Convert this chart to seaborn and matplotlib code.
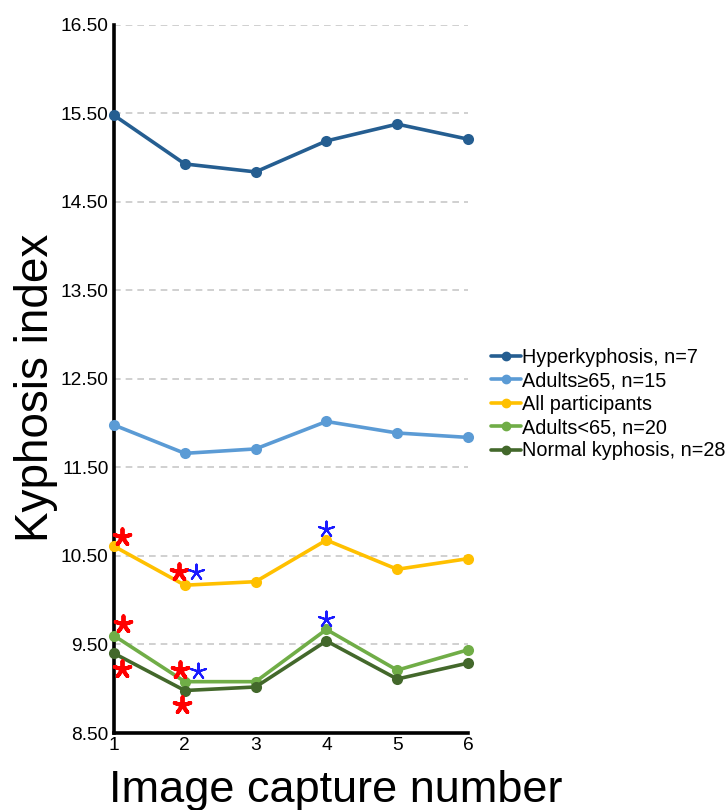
import matplotlib
matplotlib.use("Agg")
import matplotlib.pyplot as plt
import seaborn as sns
import pandas as pd
import numpy as np

captures = [1, 2, 3, 4, 5, 6]
series_names = ["Hyperkyphosis, n=7", "Adults\u226565, n=15", "All participants",
                "Adults<65, n=20", "Normal kyphosis, n=28"]
hyperkyphosis = [15.48, 14.93, 14.84, 15.19, 15.38, 15.21]
adults_65_plus = [11.98, 11.66, 11.71, 12.02, 11.89, 11.84]
all_participants = [10.61, 10.17, 10.21, 10.68, 10.35, 10.47]
adults_under_65 = [9.60, 9.08, 9.08, 9.67, 9.21, 9.44]
normal_kyphosis = [9.40, 8.98, 9.02, 9.54, 9.11, 9.29]
colors = ["#255E91", "#5B9BD5", "#FFC000", "#70AD47", "#43682B"]

# significance asterisks
red_star_x = [1.11, 1.92, 1.13, 1.11, 1.93, 1.96]
red_star_y = [10.71, 10.32, 9.73, 9.22, 9.21, 8.82]
blue_star_x = [2.16, 3.99, 2.19, 3.99]
blue_star_y = [10.32, 10.81, 9.20, 9.79]

yticks = [8.5, 9.5, 10.5, 11.5, 12.5, 13.5, 14.5, 15.5, 16.5]

sns.set_style("white")
plt.rcParams['font.family'] = ['Liberation Sans', 'DejaVu Sans']
plt.rcParams['text.color'] = 'black'
plt.rcParams['axes.labelcolor'] = 'black'
plt.rcParams['xtick.color'] = 'black'
plt.rcParams['ytick.color'] = 'black'

values = [hyperkyphosis, adults_65_plus, all_participants, adults_under_65, normal_kyphosis]
df = pd.DataFrame({
    "capture": np.tile(captures, len(series_names)),
    "value": np.concatenate(values),
    "group": np.repeat(series_names, len(captures)),
})

fig = plt.figure(figsize=(7.26, 8.10), dpi=100)
ax = fig.add_axes([114/726, 77/810, (468-114)/726, (733-25)/810])

for y in yticks[1:]:
    ax.axhline(y, color="#C8C8C8", lw=1.2, ls=(0, (4, 3)), zorder=0)

sns.lineplot(data=df, x="capture", y="value", hue="group", hue_order=series_names,
             palette=colors, marker="o", markersize=8, markeredgewidth=0,
             linewidth=2.6, ax=ax, legend=False, clip_on=False, zorder=3)

ax.scatter(red_star_x, red_star_y, marker=(5, 2, 0), s=140, color="#FF0000",
           linewidths=2.8, zorder=5, clip_on=False)
ax.scatter(blue_star_x, blue_star_y, marker=(5, 2, 0), s=130, color="#1A1AFF",
           linewidths=1.5, zorder=5, clip_on=False)

ax.set_xlim(1, 6)
ax.set_ylim(8.5, 16.5)
ax.set_xticks(captures)
ax.set_yticks(yticks)
ax.set_yticklabels([f"{v:.2f}" for v in yticks], fontsize=13.8)
ax.set_xticklabels([str(c) for c in captures], fontsize=13.8)
ax.tick_params(axis="both", length=0)
ax.tick_params(axis="y", pad=4)
ax.tick_params(axis="x", pad=3)

for side in ["top", "right"]:
    ax.spines[side].set_visible(False)
for side in ["left", "bottom"]:
    ax.spines[side].set_color("black")
    ax.spines[side].set_linewidth(2.6)

ax.set_xlabel("Image capture number", fontsize=32.5)
ax.set_ylabel("Kyphosis index", fontsize=33)
ax.xaxis.set_label_coords((336 - 114) / 354, -(802 - 733) / 708)
ax.yaxis.set_label_coords(-(114 - 14) / 354, (733 - 388) / 708)
ax.xaxis.label.set_va("baseline")
ax.yaxis.label.set_va("top")

handles = [plt.Line2D([0], [0], color=c, lw=2.6, marker="o", markersize=6) for c in colors]
fig.legend(handles, series_names, loc="upper left", bbox_to_anchor=(491/726, 1 - 348/810),
           frameon=False, fontsize=14.3, handlelength=1.5, handletextpad=0.05,
           labelspacing=0.22, borderpad=0, borderaxespad=0)

fig.savefig("out.png", dpi=100)
